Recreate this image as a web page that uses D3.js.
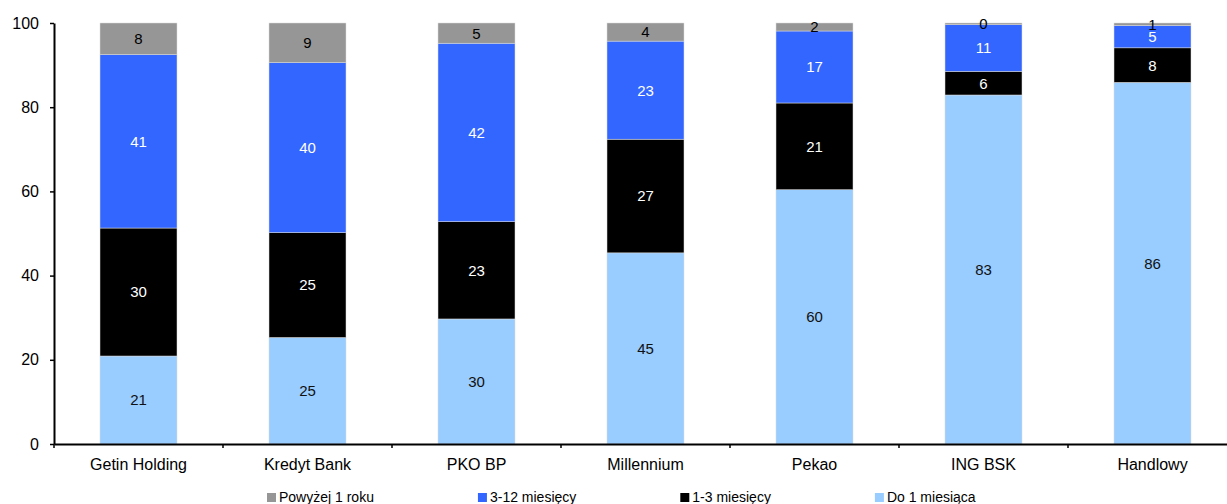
<!DOCTYPE html>
<html>
<head>
<meta charset="utf-8">
<script src="https://cdn.jsdelivr.net/npm/d3@7"></script>
<style>
  html, body { margin: 0; padding: 0; background: #fff; }
  svg { display: block; font-family: "Liberation Sans", Arial, sans-serif; }
</style>
</head>
<body>
<svg id="chart" width="1227" height="504"></svg>
<script>
// ---- data ----
const categories = ["Getin Holding", "Kredyt Bank", "PKO BP", "Millennium", "Pekao", "ING BSK", "Handlowy"];
const do1Miesiaca   = [20.9, 25.3, 29.7, 45.4, 60.4, 82.9, 85.9];
const m1do3         = [30.4, 24.9, 23.1, 27.0, 20.6, 5.6, 8.2];
const m3do12        = [41.2, 40.4, 42.4, 23.3, 17.1, 11.1, 5.3];
const powyzej1Roku  = [7.5, 9.4, 4.8, 4.3, 1.9, 0.4, 0.6];
const yTicks = [0, 20, 40, 60, 80, 100];
const seriesNames = ["Do 1 miesiąca", "1-3 miesięcy", "3-12 miesięcy", "Powyżej 1 roku"];
const legendOrder = ["Powyżej 1 roku", "3-12 miesięcy", "1-3 miesięcy", "Do 1 miesiąca"];

// ---- styles ----
const colors = {
  "Do 1 miesiąca": "#99CCFF",
  "1-3 miesięcy": "#000000",
  "3-12 miesięcy": "#3366FF",
  "Powyżej 1 roku": "#969696"
};
const labelColors = {
  "Do 1 miesiąca": "#111111",
  "1-3 miesięcy": "#ffffff",
  "3-12 miesięcy": "#ffffff",
  "Powyżej 1 roku": "#000000"
};

const seriesValues = [do1Miesiaca, m1do3, m3do12, powyzej1Roku];
const rows = categories.map((c, i) => {
  const r = { cat: c };
  seriesNames.forEach((s, k) => r[s] = seriesValues[k][i]);
  return r;
});

const svg = d3.select("#chart");
const x0 = 54, y0 = 444, yTop = 23;
const step = 169;

const x = d3.scaleBand()
  .domain(categories)
  .range([x0, x0 + step * categories.length])
  .paddingInner(0.5444)
  .paddingOuter(0.2722);

const y = d3.scaleLinear().domain([0, 100]).range([y0, yTop]);

const stack = d3.stack().keys(seriesNames);
const stacked = stack(rows);

const g = svg.append("g");

stacked.forEach(layer => {
  const name = layer.key;
  const lg = g.append("g");
  lg.selectAll("rect")
    .data(layer)
    .join("rect")
    .attr("x", d => x(d.data.cat))
    .attr("width", x.bandwidth())
    .attr("y", d => y(d[1]))
    .attr("height", d => y(d[0]) - y(d[1]))
    .attr("fill", colors[name])
    .attr("stroke", "#dcdcdc")
    .attr("stroke-width", 0.5);
  lg.selectAll("text")
    .data(layer)
    .join("text")
    .attr("x", d => x(d.data.cat) + x.bandwidth() / 2)
    .attr("y", d => (y(d[0]) + y(d[1])) / 2)
    .attr("dy", "0.36em")
    .attr("text-anchor", "middle")
    .attr("font-size", 15)
    .attr("fill", labelColors[name])
    .text(d => Math.round(d[1] - d[0]));
});

// Y axis
const yAxis = d3.axisLeft(y).tickValues(yTicks).tickSize(4).tickSizeOuter(0).tickPadding(11);
const ya = svg.append("g").attr("transform", `translate(${x0},0)`).call(yAxis);
ya.select(".domain").attr("stroke", "#000").attr("stroke-width", 2);
ya.selectAll(".tick line").attr("stroke", "#000").attr("stroke-width", 1.5);
ya.selectAll(".tick text").attr("font-size", 16).attr("fill", "#000").attr("font-family", "Liberation Sans, Arial, sans-serif");

// X axis
const xAxis = d3.axisBottom(x).tickSize(0).tickSizeOuter(0).tickPadding(15);
const xa = svg.append("g").attr("transform", `translate(0,${y0})`).call(xAxis);
xa.select(".domain").attr("stroke", "#000").attr("stroke-width", 2);
xa.selectAll(".tick text").attr("font-size", 16).attr("fill", "#000").attr("font-family", "Liberation Sans, Arial, sans-serif");
// boundary ticks between categories
xa.selectAll(".sep")
  .data(categories)
  .join("line")
  .attr("class", "sep")
  .attr("x1", d => x(d) + x.bandwidth() + (x.step() - x.bandwidth()) / 2)
  .attr("x2", d => x(d) + x.bandwidth() + (x.step() - x.bandwidth()) / 2)
  .attr("y1", 0).attr("y2", 4)
  .attr("stroke", "#000").attr("stroke-width", 1.5);
xa.append("line").attr("x1", x0).attr("x2", x0).attr("y1", 0).attr("y2", 4).attr("stroke", "#000").attr("stroke-width", 1.5);

// Legend
const legend = svg.append("g").attr("transform", "translate(267,0)");
let lx = 0;
legendOrder.forEach(name => {
  const item = legend.append("g").attr("transform", `translate(${lx},0)`);
  item.append("rect").attr("x", 0).attr("y", 493).attr("width", 9).attr("height", 9).attr("fill", colors[name]);
  const t = item.append("text").attr("x", 12).attr("y", 502).attr("font-size", 14).attr("fill", "#000").text(name);
  const w = t.node().getComputedTextLength();
  lx += 12 + w + 104;
});
</script>
</body>
</html>
